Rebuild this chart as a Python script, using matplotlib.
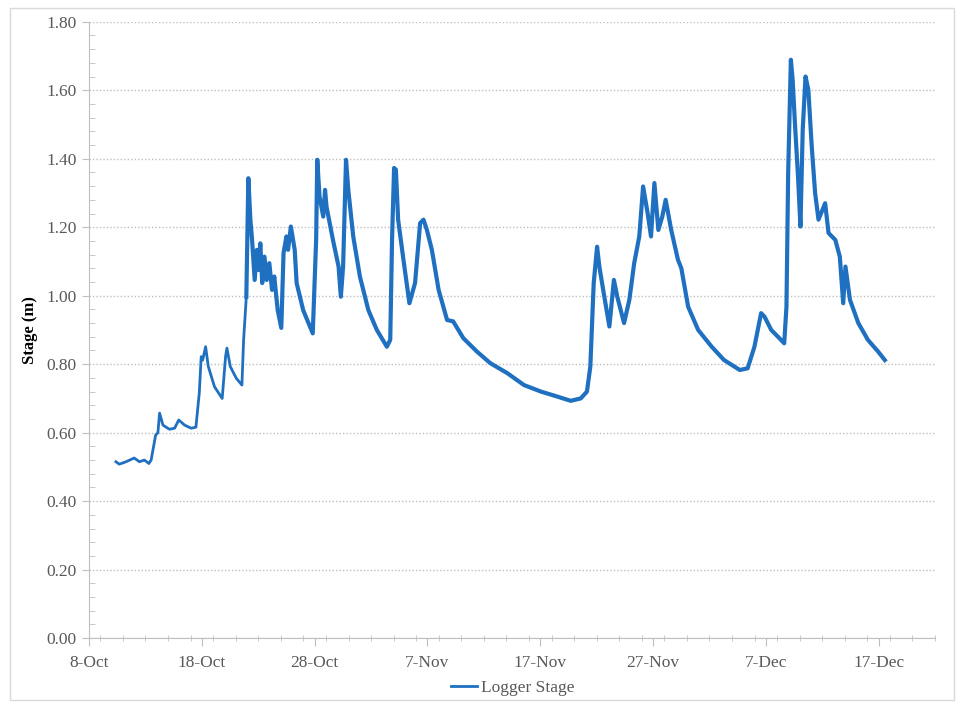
import numpy as np
import pandas as pd
import matplotlib
matplotlib.use('Agg')
import matplotlib.pyplot as plt
import matplotlib.dates as mdates
from matplotlib.ticker import MultipleLocator, FuncFormatter
from matplotlib.patches import Rectangle

start = pd.Timestamp('2019-10-08')

# logger readings: days after 8-Oct, stage in metres
days = [2.38, 2.68, 3.27, 4.0, 4.46, 4.9, 5.3, 5.5, 5.9, 6.1, 6.25, 6.55,
        7.12, 7.58, 7.95, 8.47, 9.05, 9.47, 9.77, 9.94, 10.07, 10.33, 10.57,
        11.12, 11.8, 12.1, 12.22, 12.52, 13.05, 13.55, 13.7, 13.94, 14.12,
        14.3, 14.45, 14.68, 14.88, 15.05, 15.18, 15.35, 15.55, 15.75, 15.98,
        16.22, 16.42, 16.72,
        17.04, 17.24, 17.5, 17.64, 17.89, 18.23, 18.4, 18.98, 19.83, 20.13,
        20.23, 20.43, 20.76, 20.92, 21.05, 21.62, 22.12, 22.32, 22.52, 22.78,
        22.98, 23.42, 24.01, 24.76, 25.51, 26.4, 26.7, 26.86, 27.04, 27.2,
        27.4, 27.87, 28.4, 28.9, 29.35, 29.65, 29.95, 30.39, 30.99, 31.74,
        32.28, 33.18, 34.38, 35.57, 37.07, 38.56, 40.06, 41.55, 42.7, 43.59,
        44.14, 44.44, 44.74, 45.04, 45.24, 45.63, 46.13, 46.53, 46.83, 47.43,
        47.9, 48.33, 48.78, 49.12, 49.52, 49.82, 50.12, 50.47, 50.82, 51.12,
        51.61, 52.21, 52.51, 53.11, 54.0, 55.2, 56.3, 57.69, 58.39, 58.99,
        59.58, 59.88, 60.48, 61.08, 61.63, 61.83, 61.98, 62.22, 62.38, 62.58,
        62.87, 63.07, 63.27, 63.52, 63.77, 64.07, 64.37, 64.67, 65.26, 65.56,
        66.16, 66.56, 66.86, 67.06, 67.46, 68.2, 69.05, 69.95, 70.55]
stage = [0.515, 0.508, 0.515, 0.526, 0.515, 0.52, 0.51, 0.52, 0.593, 0.60, 0.657, 0.622,
         0.61, 0.613, 0.637, 0.622, 0.613, 0.616, 0.716, 0.822, 0.812, 0.851, 0.793,
         0.734, 0.70, 0.822, 0.847, 0.793, 0.759, 0.739, 0.871, 0.997, 1.343,
         1.222, 1.163, 1.046, 1.134, 1.075, 1.153, 1.037, 1.114, 1.046, 1.095,
         1.017, 1.056, 0.958,
         0.906, 1.125, 1.173, 1.134, 1.202, 1.134, 1.037, 0.958, 0.89, 1.163,
         1.397, 1.29, 1.231, 1.309, 1.26, 1.163, 1.085, 0.997, 1.085, 1.397,
         1.309, 1.173, 1.056, 0.958, 0.90, 0.851, 0.871, 1.163, 1.373, 1.368,
         1.222, 1.105, 0.978, 1.037, 1.212, 1.222, 1.192, 1.134, 1.017, 0.929,
         0.925, 0.876, 0.837, 0.803, 0.774, 0.739, 0.72, 0.705, 0.693, 0.70,
         0.72, 0.793, 1.037, 1.143, 1.085, 1.007, 0.91, 1.046, 0.997, 0.92,
         0.988, 1.095, 1.173, 1.319, 1.241, 1.173, 1.329, 1.192, 1.231, 1.28,
         1.192, 1.105, 1.08, 0.968, 0.90, 0.851, 0.812, 0.783, 0.788, 0.851,
         0.949, 0.939, 0.90, 0.88, 0.861, 0.968, 1.358, 1.689, 1.63, 1.504,
         1.338, 1.202, 1.484, 1.64, 1.601, 1.436, 1.30, 1.222, 1.27, 1.183,
         1.163, 1.114, 0.978, 1.085, 0.988, 0.92, 0.871, 0.837, 0.812]

dates = [start + pd.Timedelta(days=d) for d in days]
major_ticks = pd.date_range('2019-10-08', '2019-12-17', freq='10D')

plt.rcParams['font.family'] = ['Liberation Serif', 'DejaVu Serif']
grey = '#595959'
blue = '#1F70C0'

fig = plt.figure(figsize=(9.58, 7.02), dpi=100)
ax = fig.add_axes([0.093, 0.091, 0.883, 0.878])

# early record is smooth, later record is noisy (thicker trace)
n = 31
ax.plot(dates[:n + 1], stage[:n + 1], color=blue, lw=2.0, label='Logger Stage',
        solid_joinstyle='round')
ax.plot(dates[n:], stage[n:], color=blue, lw=3.0, solid_joinstyle='round')

ax.set_ylim(0, 1.8)
ax.set_xlim(start, pd.Timestamp('2019-12-22'))
ax.yaxis.set_major_locator(MultipleLocator(0.2))
ax.yaxis.set_minor_locator(MultipleLocator(0.04))
ax.yaxis.set_major_formatter(FuncFormatter(lambda v, p: f'{v:.2f}'))
ax.set_xticks(major_ticks)
ax.xaxis.set_minor_locator(mdates.DayLocator(interval=2))
ax.xaxis.set_major_formatter(FuncFormatter(
    lambda v, p: f"{mdates.num2date(v).day}-{mdates.num2date(v).strftime('%b')}"))

ax.grid(axis='y', which='major', color='#BFBFBF', linestyle=(0, (1, 1.5)), lw=1)
ax.set_axisbelow(True)
for s in ['top', 'right']:
    ax.spines[s].set_visible(False)
for s in ['left', 'bottom']:
    ax.spines[s].set_color('#BFBFBF')

ax.tick_params(axis='y', which='major', direction='out', length=5, color='#BFBFBF',
               labelsize=12.5, labelcolor=grey, pad=4)
ax.tick_params(axis='y', which='minor', direction='in', length=4, color='#BFBFBF')
ax.tick_params(axis='x', which='major', direction='out', length=6, color='#BFBFBF',
               labelsize=12.5, labelcolor=grey, pad=6)
ax.tick_params(axis='x', which='minor', direction='inout', length=5, color='#BFBFBF')

ax.set_ylabel('Stage (m)', fontsize=12, fontweight='bold', color='black', labelpad=6)

fig.legend(loc='center', bbox_to_anchor=(0.535, 0.02), frameon=False, fontsize=12.5,
           handlelength=1.5, handletextpad=0.2, labelcolor=grey)

fig.add_artist(Rectangle((0.0105, 0.003), 0.985, 0.9855, transform=fig.transFigure,
                         fill=False, edgecolor='#D9D9D9', lw=1))

fig.savefig('out.png', dpi=100)
